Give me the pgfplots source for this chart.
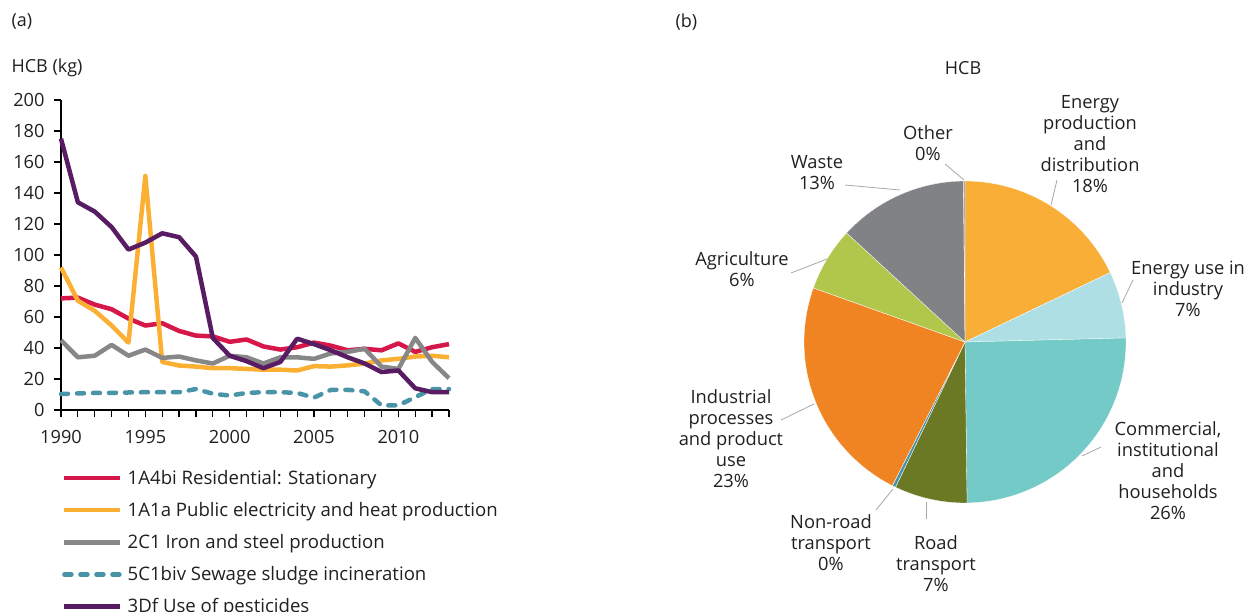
\documentclass[border=0pt]{standalone}
\usepackage{pgfplots}
\pgfplotsset{compat=1.18}
\usepackage{fontspec}
\setmainfont{Open Sans}
\definecolor{cRes}{HTML}{D6174A}
\definecolor{cPub}{HTML}{FBB034}
\definecolor{cIron}{HTML}{878787}
\definecolor{cSew}{HTML}{4A94A8}
\definecolor{cPest}{HTML}{581C63}
\definecolor{txt}{HTML}{231F20}
\definecolor{pEP}{HTML}{F9AE37}
\definecolor{pEU}{HTML}{ADDFE5}
\definecolor{pCom}{HTML}{74CAC7}
\definecolor{pRoad}{HTML}{6B7824}
\definecolor{pNR}{HTML}{4A94A8}
\definecolor{pInd}{HTML}{F08423}
\definecolor{pAgr}{HTML}{B0C74B}
\definecolor{pWas}{HTML}{808285}
\definecolor{pOth}{HTML}{A0A0A0}
\definecolor{lead}{HTML}{A8A8A8}
\begin{document}
\begin{tikzpicture}[font=\fontsize{18}{21}\selectfont, text=txt]
\useasboundingbox (0,0) rectangle (1248pt,-612pt);
\node[anchor=west] at (8pt,-22pt) {(a)};
\node[anchor=west] at (8pt,-68pt) {HCB (kg)};
\node[anchor=west] at (672pt,-22pt) {(b)};
\node at (963pt,-68pt) {HCB};
\begin{axis}[
  at={(61pt,-410pt)}, anchor=south west,
  width=388pt, height=310pt, scale only axis,
  xmin=1990, xmax=2013, ymin=0, ymax=200,
  axis x line=bottom, axis y line=left,
  axis line style={-, line width=1.2pt, black},
  xtick={1990,1995,2000,2005,2010},
  minor xtick={1990,...,2013},
  ytick={0,20,...,200},
  tick align=outside,
  major tick length=7pt, minor tick length=7pt,
  tick style={line width=1.2pt, black},
  /pgf/number format/1000 sep={},
  /pgf/number format/assume math mode=true,
  ticklabel style={font=\fontsize{18.2}{21}\selectfont, text=txt},
  xticklabel style={yshift=-10pt},
  yticklabel style={xshift=-6pt},
  clip=false,
  every axis plot/.append style={line width=4.5pt, line join=round},
  legend cell align=left,
  legend style={at={(0,0)}, anchor=north west, xshift=1pt, yshift=-58pt,
    draw=none, fill=none, inner sep=0pt, row sep=12.5pt,
    font=\fontsize{18.6}{21}\selectfont, text=txt,
    /tikz/every odd column/.append style={column sep=3pt}},
  legend image code/.code={\draw[#1] (0pt,0pt) -- (56pt,0pt);},
]
\addplot[cRes] coordinates {
(1990,72)(1991,72.5)(1992,68)(1993,65)(1994,59)(1995,54.5)(1996,56)(1997,51)(1998,48)(1999,47.5)
(2000,44)(2001,45.5)(2002,41)(2003,39)(2004,40.5)(2005,43.5)(2006,41.5)(2007,38.5)(2008,39.5)(2009,38.5)
(2010,43)(2011,37.5)(2012,40.5)(2013,42.5)};
\addlegendentry{1A4bi Residential: Stationary}
\addplot[cPub] coordinates {
(1990,92)(1991,70.5)(1992,64)(1993,54.5)(1994,43.5)(1995,151)(1996,31)(1997,28.7)(1998,28)(1999,27)
(2000,27)(2001,26.5)(2002,26)(2003,26)(2004,25.5)(2005,28.3)(2006,28)(2007,28.8)(2008,30)(2009,32)
(2010,33)(2011,34.5)(2012,35)(2013,34)};
\addlegendentry{1A1a Public electricity and heat production}
\addplot[cIron] coordinates {
(1990,45)(1991,34)(1992,35)(1993,42)(1994,35)(1995,39)(1996,33.6)(1997,34.5)(1998,32)(1999,30)
(2000,35)(2001,34)(2002,30)(2003,34)(2004,34)(2005,33)(2006,36.5)(2007,37.5)(2008,39.5)(2009,28)
(2010,26.5)(2011,46.5)(2012,31)(2013,20.5)};
\addlegendentry{2C1 Iron and steel production}
\addplot[cSew, line cap=round, dash pattern=on 7pt off 9pt] coordinates {
(1990,10.3)(1991,10.7)(1992,11)(1993,11)(1994,11.3)(1995,11.5)(1996,11.5)(1997,11.5)(1998,13.5)(1999,10.5)
(2000,9.3)(2001,11)(2002,11.5)(2003,11.5)(2004,11)(2005,8)(2006,13)(2007,13)(2008,12)(2009,3)
(2010,3)(2011,8.3)(2012,13.5)(2013,13.5)};
\addlegendentry{5C1biv Sewage sludge incineration}
\addplot[cPest] coordinates {
(1990,175)(1991,134)(1992,128)(1993,118)(1994,103.5)(1995,108)(1996,114)(1997,111.5)(1998,99)(1999,46.5)
(2000,35)(2001,31.5)(2002,27)(2003,31)(2004,46)(2005,42.5)(2006,38.5)(2007,34)(2008,30)(2009,24.5)
(2010,25.5)(2011,14)(2012,11.5)(2013,11.5)};
\addlegendentry{3Df Use of pesticides}
\end{axis}
% pie: angles clockwise from 12 o'clock = cumulative percent * 3.6
% shares (%): 17.9, 6.7, 25.2, 7.3, 0.35, 23.0, 6.4, 13.0, 0.15
\begin{axis}[
  at={(965pt,-342pt)}, anchor=center,
  width=322pt, height=322pt, scale only axis,
  xmin=-1, xmax=1, ymin=-1, ymax=1, hide axis, clip=false,
  every axis plot/.append style={draw=white, line width=0.3pt, samples=60, variable=\t},
]
\addplot[fill=pEP,  domain=0:64.44]       ({sin(t)},{cos(t)}) -- (0,0) -- cycle;
\addplot[fill=pEU,  domain=64.44:88.56]   ({sin(t)},{cos(t)}) -- (0,0) -- cycle;
\addplot[fill=pCom, domain=88.56:179.28]  ({sin(t)},{cos(t)}) -- (0,0) -- cycle;
\addplot[fill=pRoad,domain=179.28:205.56] ({sin(t)},{cos(t)}) -- (0,0) -- cycle;
\addplot[fill=pNR,  domain=205.56:206.82, samples=3] ({sin(t)},{cos(t)}) -- (0,0) -- cycle;
\addplot[fill=pInd, domain=206.82:289.62] ({sin(t)},{cos(t)}) -- (0,0) -- cycle;
\addplot[fill=pAgr, domain=289.62:312.66] ({sin(t)},{cos(t)}) -- (0,0) -- cycle;
\addplot[fill=pWas, domain=312.66:359.46] ({sin(t)},{cos(t)}) -- (0,0) -- cycle;
\addplot[fill=pOth, domain=359.46:360, samples=3] ({sin(t)},{cos(t)}) -- (0,0) -- cycle;
\end{axis}
% pie labels
\begin{scope}[every node/.style={align=center, font=\fontsize{18.3}{21}\selectfont, text=txt}, lead/.style={draw=lead, line width=0.8pt}]
\node at (928pt,-143pt) {Other\\0\%};
\draw[lead] (945pt,-164pt) -- (964pt,-180pt);
\node at (817pt,-173pt) {Waste\\13\%};
\draw[lead] (845pt,-185pt) -- (900pt,-190pt);
\node at (1090pt,-144pt) {Energy\\production\\and\\distribution\\18\%};
\draw[lead] (1057pt,-180pt) -- (1051pt,-205pt);
\node at (1188pt,-289pt) {Energy use in\\industry\\7\%};
\draw[lead] (1133pt,-280pt) -- (1122pt,-303pt);
\node at (1168pt,-471pt) {Commercial,\\institutional\\and\\households\\26\%};
\draw[lead] (1101pt,-447pt) -- (1082pt,-456pt);
\node at (936pt,-564pt) {Road\\transport\\7\%};
\draw[lead] (926pt,-502pt) -- (926pt,-519pt);
\node at (831pt,-543pt) {Non-road\\transport\\0\%};
\draw[lead] (893pt,-489pt) -- (876pt,-510pt);
\node at (731pt,-439pt) {Industrial\\processes\\and product\\use\\23\%};
\draw[lead] (781pt,-420pt) -- (814pt,-404pt);
\node at (742pt,-269pt) {Agriculture\\6\%};
\draw[lead] (791pt,-273pt) -- (827pt,-259pt);
\end{scope}
\end{tikzpicture}
\end{document}
